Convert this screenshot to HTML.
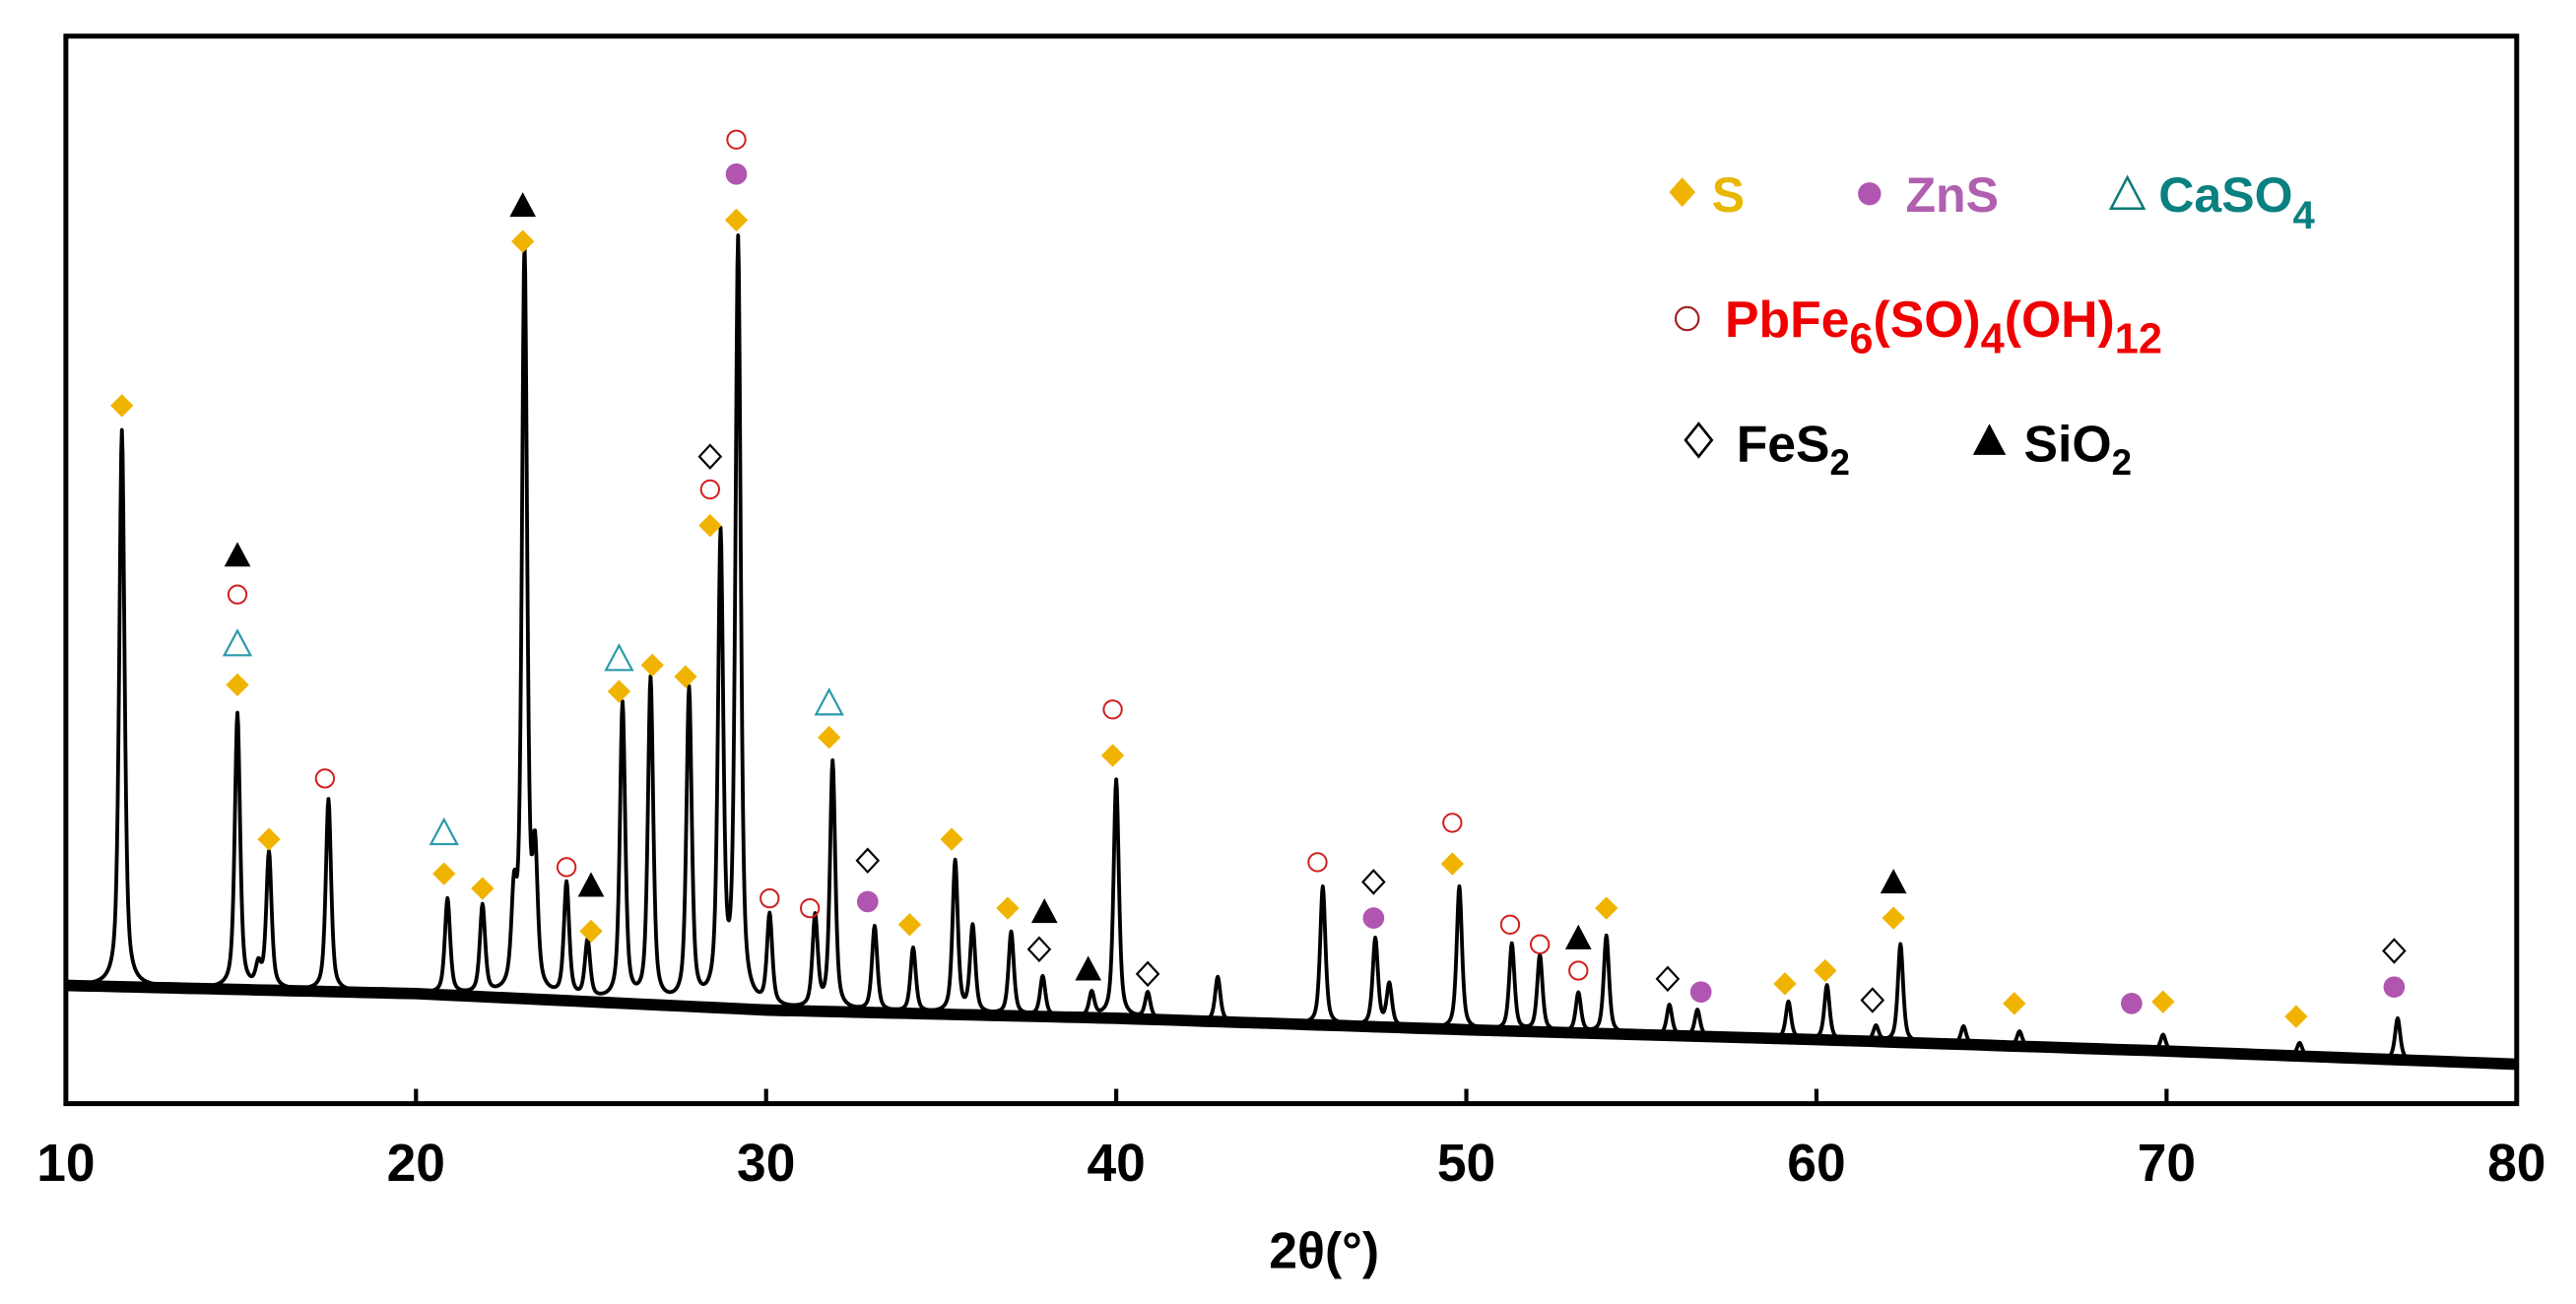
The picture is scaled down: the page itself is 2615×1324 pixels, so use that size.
<!DOCTYPE html>
<html><head><meta charset="utf-8"><style>
html,body{margin:0;padding:0;background:#fff;}
svg{display:block;}
text{font-family:"Liberation Sans",Arial,sans-serif;font-weight:bold;}
</style></head><body>
<svg id="chart" width="2615" height="1324" viewBox="0 0 1568 794" xmlns="http://www.w3.org/2000/svg">
<rect x="0" y="0" width="1568" height="794" fill="#fff"/>
<g id="plot"></g>
<rect x="40" y="22" width="1492" height="650" fill="none" stroke="#000" stroke-width="3"/>
<g id="xticks"></g>
<text x="806" y="772" font-size="31" text-anchor="middle">2θ(°)</text>
<g>
  <g>
    <path d="M1024,108 L1032,117 L1024,126 L1016,117Z" fill="#f0b400"/>
    <text x="1042" y="129" font-size="30" fill="#e8b800">S</text>
  </g>
  <g>
    <circle cx="1138" cy="118" r="7" fill="#b055b0"/>
    <text x="1160" y="129" font-size="30" fill="#b060b0">ZnS</text>
  </g>
  <g>
    <path d="M1295,108 L1305,127 L1285,127Z" fill="none" stroke="#0a7a7a" stroke-width="1.5"/>
    <text x="1314" y="129" font-size="30" fill="#0a8080">CaSO<tspan font-size="24" dy="10">4</tspan></text>
  </g>
  <g>
    <circle cx="1027" cy="194" r="7" fill="none" stroke="#a02020" stroke-width="1.3"/>
    <text x="1050" y="205" font-size="31" fill="#f00000">PbFe<tspan font-size="26" dy="10">6</tspan><tspan dy="-10">(SO)</tspan><tspan font-size="26" dy="10">4</tspan><tspan dy="-10">(OH)</tspan><tspan font-size="26" dy="10">12</tspan></text>
  </g>
  <g>
    <path d="M1034,258 L1042,268 L1034,278 L1026,268Z" fill="none" stroke="#000" stroke-width="1.6"/>
    <text x="1057" y="281" font-size="31" fill="#000">FeS<tspan font-size="22" dy="8">2</tspan></text>
  </g>
  <g>
    <path d="M1211,258 L1221,277 L1201,277Z" fill="#000"/>
    <text x="1232" y="281" font-size="31" fill="#000">SiO<tspan font-size="22" dy="8">2</tspan></text>
  </g>
</g>
</svg>
<script>
// ---- data ----
const peakPos = [11.6,14.9,15.5,15.8,17.5,20.9,21.9,22.8,23.1,23.4,24.3,24.9,25.9,26.7,27.8,28.7,29.2,30.1,31.4,31.9,33.1,34.2,35.4,35.9,37.0,37.9,39.3,40.0,40.9,42.9,45.9,47.4,47.8,49.8,51.3,52.1,53.2,54.0,55.8,56.6,59.2,60.3,61.7,62.4,64.2,65.8,69.9,73.8,76.6];
const peakTop = [410,237,82,152,185,124,119,117,517,142,132,97,242,257,250,340,522,112,112,207,107,94,147,107,104,77,67,197,67,77,132,100,72,132,97,90,67,102,60,57,62,72,47,97,47,44,42,37,52];
const baseDeg = [10,20,30,40,50,60,70,80];
const baseVal = [72,67,57,52,45,39,32,24];
const xTicks = [10,20,30,40,50,60,70,80];
const markDeg = [11.6,14.9,14.9,14.9,14.9,15.8,17.4,20.8,20.8,21.9,23.05,23.05,24.3,25.0,25.0,25.8,25.8,26.75,27.7,28.4,28.4,28.4,29.15,29.15,29.15,30.1,31.25,31.8,31.8,32.9,32.9,34.1,35.3,36.9,37.95,37.8,39.2,40.9,39.9,39.9,45.75,47.35,47.35,49.6,49.6,51.25,52.1,53.2,53.2,54.0,55.75,56.7,59.1,60.25,61.6,62.2,62.2,65.65,69.0,69.9,73.7,76.5,76.5];
const markLevel = [425,334,310,280,255,161,198,165,140,131,547,525,144,133,105,271,251,267,260,394,374,352,587,566,538,125,119,244,223,148,123,109,161,119,117,94,82,79,240,212,147,135,113,171,146,109,97,101,81,119,76,68,73,81,63,135,113,61,61,62,53,93,71];
const markType = ["S","A","P","C","S","S","P","C","S","S","A","S","P","A","S","C","S","S","S","F","P","S","P","Z","S","P","P","C","S","F","Z","S","S","S","A","F","A","F","P","S","P","F","Z","P","S","P","P","A","P","S","F","Z","S","S","F","A","S","S","Z","S","S","F","Z"];

// ---- axes ----
const X0=40,X1=1532,YB=672;
const xs = d => X0 + (d-10)*(X1-X0)/70;
const ys = v => YB - v;
const NS="http://www.w3.org/2000/svg";
function mk(tag, attrs, parent){const e=document.createElementNS(NS,tag);for(const k in attrs)e.setAttribute(k,attrs[k]);parent.appendChild(e);return e;}
function baseline(d){for(let i=0;i<baseDeg.length-1;i++){if(d<=baseDeg[i+1]){const t=(d-baseDeg[i])/(baseDeg[i+1]-baseDeg[i]);return baseVal[i]+t*(baseVal[i+1]-baseVal[i]);}}return baseVal[baseVal.length-1];}

const plot=document.getElementById('plot');
let bd="";
for(let d=10;d<=80.001;d+=0.5){bd+=(bd?"L":"M")+xs(d).toFixed(1)+","+ys(baseline(d)).toFixed(1);}
const band=mk('path',{d:bd,fill:"none",stroke:"#000","stroke-width":7,"stroke-linejoin":"round"},plot);


let pd="";
for(let d=10;d<=80.001;d+=0.02){
  let v=baseline(d);
  for(let i=0;i<peakPos.length;i++){
    const h=peakTop[i]-baseline(peakPos[i]);
    const w=0.09;const u=(d-peakPos[i])/w;
    v+=h*(0.6/(1+u*u)+0.4*Math.exp(-0.693*u*u));
  }
  pd+=(pd?"L":"M")+xs(d).toFixed(2)+","+Math.max(23,ys(v)).toFixed(2);
}
const curve=mk('path',{d:pd,fill:"none",stroke:"#000","stroke-width":2.3,"stroke-linejoin":"round"},plot);



for(let i=0;i<markDeg.length;i++){
  const x=xs(markDeg[i]),y=ys(markLevel[i]),t=markType[i];let e;
  if(t==="S") e=mk('path',{d:`M${x},${y-7}L${x+7},${y}L${x},${y+7}L${x-7},${y}Z`,fill:"#f0b400"},plot);
  else if(t==="Z") e=mk('circle',{cx:x,cy:y,r:6.5,fill:"#b055b0"},plot);
  else if(t==="P") e=mk('circle',{cx:x,cy:y,r:5.5,fill:"none",stroke:"#d02020","stroke-width":1.2},plot);
  else if(t==="C") e=mk('path',{d:`M${x},${y-8}L${x+8},${y+7}L${x-8},${y+7}Z`,fill:"none",stroke:"#2a9aaa","stroke-width":1.3},plot);
  else if(t==="F") e=mk('path',{d:`M${x},${y-7}L${x+6.5},${y}L${x},${y+7}L${x-6.5},${y}Z`,fill:"none",stroke:"#000","stroke-width":1.3},plot);
  else e=mk('path',{d:`M${x},${y-8}L${x+8},${y+7}L${x-8},${y+7}Z`,fill:"#000"},plot);
  
  
}

const xt=document.getElementById('xticks');
for(const t of xTicks){
  const x=xs(t);
  if(t>10&&t<80){const l=mk('line',{x1:x,x2:x,y1:YB,y2:YB-9,stroke:"#000","stroke-width":2.5},xt);
    
    }
  const tx=mk('text',{x:x,y:719,"font-size":32,"text-anchor":"middle"},xt);
  tx.textContent=t;
  
  
}
</script>
</body></html>
